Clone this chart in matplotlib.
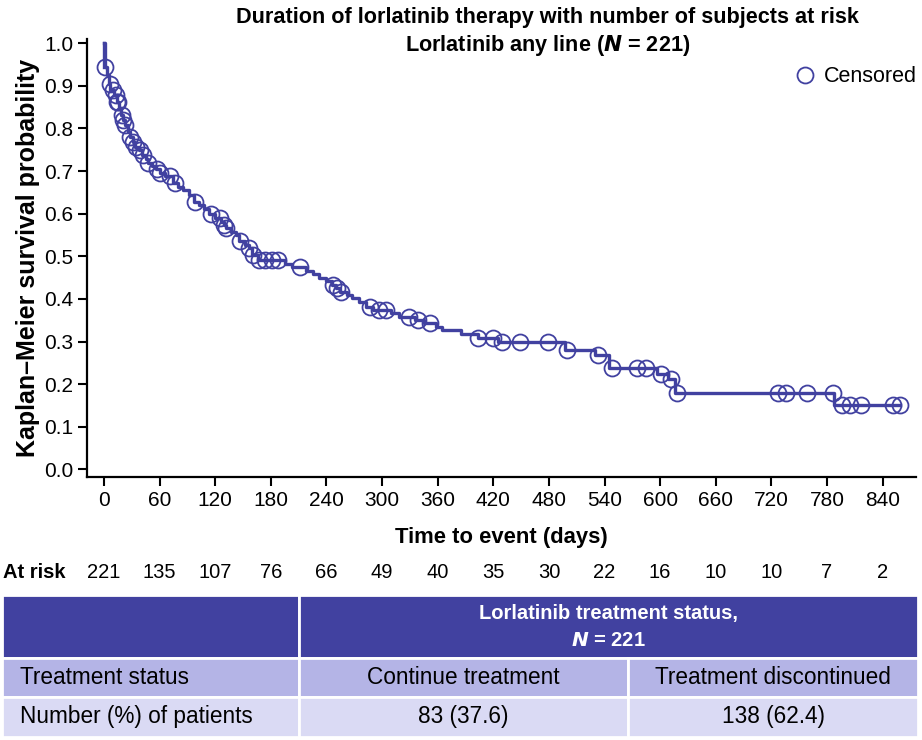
import numpy as np
import matplotlib
matplotlib.use("Agg")
import matplotlib.pyplot as plt
from matplotlib.patches import Rectangle
from matplotlib.lines import Line2D
import matplotlib.transforms as mtransforms

plt.rcParams['font.family'] = ['Liberation Sans', 'DejaVu Sans']

# Kaplan-Meier step curve (time in days, survival after the step)
event_days = [0, 1, 3, 5, 7, 11, 14, 16, 18, 21, 23, 26, 28, 31, 34, 38, 41, 45, 48,
              52, 56, 60, 66, 75, 80, 85, 92, 97, 103, 108, 113, 120, 126, 129, 132,
              137, 142, 146, 152, 156, 160, 166, 195, 203, 218, 225, 232, 240, 246,
              250, 255, 262, 268, 275, 283, 290, 310, 318, 335, 345, 358, 365, 385,
              404, 425, 497, 530, 545, 597, 608, 616, 788]
survival = [1.0, 0.945, 0.925, 0.905, 0.89, 0.878, 0.862, 0.845, 0.832, 0.82, 0.808,
            0.792, 0.78, 0.769, 0.757, 0.75, 0.738, 0.728, 0.72, 0.712, 0.705, 0.695,
            0.688, 0.671, 0.662, 0.655, 0.645, 0.628, 0.62, 0.61, 0.6, 0.59, 0.58,
            0.573, 0.566, 0.558, 0.55, 0.535, 0.527, 0.519, 0.503, 0.491, 0.483,
            0.475, 0.466, 0.458, 0.45, 0.442, 0.433, 0.425, 0.417, 0.41, 0.402,
            0.393, 0.382, 0.374, 0.366, 0.358, 0.35, 0.343, 0.335, 0.326, 0.318,
            0.308, 0.30, 0.28, 0.268, 0.237, 0.224, 0.211, 0.18, 0.151]
last_day = 859

censored_days = [1, 6.5, 10, 12.5, 14, 15, 19, 21, 23, 28, 31.5, 35, 39, 42, 48, 57, 60,
                 71, 76.5, 98, 116, 125, 129, 132, 147, 156, 161, 167, 174, 181, 188,
                 211, 247, 251, 256, 287, 297, 304, 329, 339, 352, 404, 420, 429, 449,
                 479, 499, 533, 548, 575, 585, 601, 612, 618, 727, 736, 758, 786, 796,
                 805, 817, 851, 859]

risk_days = list(range(0, 841, 60))
at_risk = [221, 135, 107, 76, 66, 49, 40, 35, 30, 22, 16, 10, 10, 7, 2]

table_header = ["Lorlatinib treatment status,", "$\\mathbfit{N}$ = 221"]
row_labels = ["Treatment status", "Number (%) of patients"]
col_continue = ["Continue treatment", "83 (37.6)"]
col_discont = ["Treatment discontinued", "138 (62.4)"]

purple = '#4141A0'

fig = plt.figure(figsize=(9.22, 7.4), dpi=100)
W, H = 922, 740


def fx(px):
    return px / W


def fy(py):
    return 1 - py / H


ax = fig.add_axes([fx(87), fy(477), fx(916) - fx(87), fy(39) - fy(477)])

t_step = np.array(event_days + [last_day])
s_step = np.array(survival + [survival[-1]])
ax.step(t_step, s_step, where='post', color=purple, lw=2.4, zorder=3)
# vertical start line
ax.plot([0, 0], [1.0, survival[1]], color=purple, lw=2.4)

idx = np.searchsorted(event_days, censored_days, side='right') - 1
cens_s = np.array(survival)[idx]
ax.plot(censored_days, cens_s, 'o', ms=11.5, mfc='none', mec=purple, mew=1.3, zorder=4)

ax.set_xlim(-18.3, 876)
ax.set_ylim(-0.018, 1.01)
ax.set_xticks(risk_days)
ax.set_yticks(np.arange(0, 1.01, 0.1))
ax.yaxis.set_major_formatter(plt.FuncFormatter(lambda v, p: f"{v:.1f}"))
ax.tick_params(labelsize=15, width=1.5, length=6.5, color='black')
for side in ['top', 'right']:
    ax.spines[side].set_visible(False)
for side in ['left', 'bottom']:
    ax.spines[side].set_linewidth(1.6)
ax.set_xlabel("Time to event (days)", fontsize=15.8, fontweight='bold', labelpad=12)
ax.set_ylabel("Kaplan–Meier survival probability", fontsize=18, fontweight='bold', labelpad=3)

leg_handle = Line2D([], [], marker='o', ls='none', ms=11.5, mfc='none', mec=purple, mew=1.3)
fig.legend([leg_handle], ["Censored"], loc='center left', frameon=False, fontsize=15.5,
           handlelength=1.0, handletextpad=0.4, borderpad=0, borderaxespad=0,
           bbox_to_anchor=(fx(794), fy(77)))

fig.text(fx(547), fy(18), "Duration of lorlatinib therapy with number of subjects at risk",
         ha='center', va='center', fontsize=15.6, fontweight='bold')
fig.text(fx(548), fy(45), "Lorlatinib any line ($\\mathbfit{N}$ = 221)",
         ha='center', va='center', fontsize=15.6, fontweight='bold')

# at-risk row
trans = mtransforms.blended_transform_factory(ax.transData, fig.transFigure)
fig.text(fx(3), fy(572), "At risk", ha='left', va='center', fontsize=14.5, fontweight='bold')
for d, n in zip(risk_days, at_risk):
    ax.text(d, fy(572), str(n), transform=trans, ha='center', va='center', fontsize=14.5)

# table drawn in pixel coordinates
tab = fig.add_axes([0, 0, 1, 1], zorder=-1)
tab.set_xlim(0, W)
tab.set_ylim(H, 0)
tab.axis('off')
rows_y = [(595, 658), (658, 697), (697, 737)]
x0, x1, x2, x3 = 2, 299, 628, 918
light1, light2 = '#B4B4E6', '#DADAF4'
cells = [
    (x0, x1, rows_y[0], purple), (x1, x3, rows_y[0], purple),
    (x0, x1, rows_y[1], light1), (x1, x2, rows_y[1], light1), (x2, x3, rows_y[1], light1),
    (x0, x1, rows_y[2], light2), (x1, x2, rows_y[2], light2), (x2, x3, rows_y[2], light2),
]
for a, b, (ya, yb), c in cells:
    tab.add_patch(Rectangle((a, ya), b - a, yb - ya, facecolor=c, edgecolor='white', lw=2))

tab.text((x1 + x3) / 2, 614, table_header[0], ha='center', va='center', color='white',
         fontsize=14.5, fontweight='bold')
tab.text((x1 + x3) / 2, 641, table_header[1], ha='center', va='center', color='white',
         fontsize=14.5, fontweight='bold')
for i, (ya, yb) in enumerate(rows_y[1:]):
    yc = (ya + yb) / 2
    tab.text(x0 + 18, yc, row_labels[i], ha='left', va='center', fontsize=16.3)
    tab.text((x1 + x2) / 2, yc, col_continue[i], ha='center', va='center', fontsize=16.3)
    tab.text((x2 + x3) / 2, yc, col_discont[i], ha='center', va='center', fontsize=16.3)

fig.savefig("out.png", dpi=100)
